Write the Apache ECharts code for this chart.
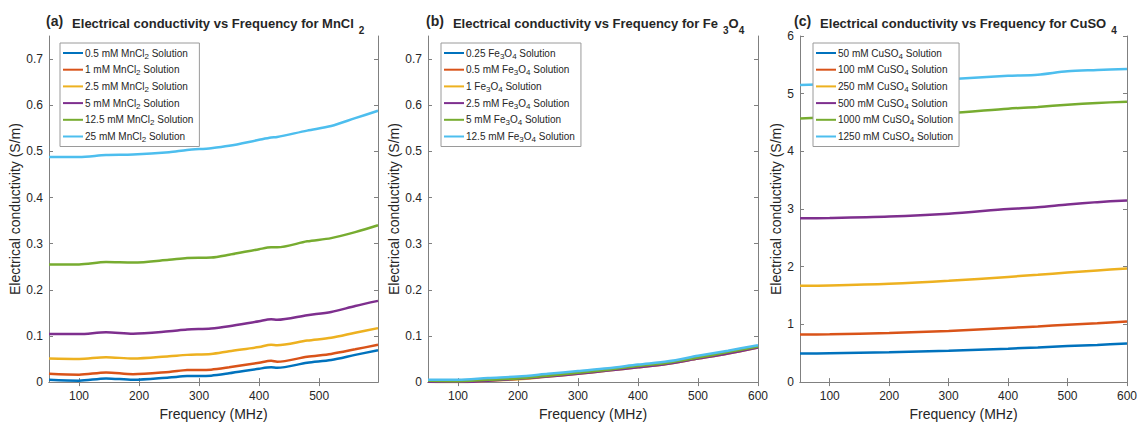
<!DOCTYPE html>
<html>
<head>
<meta charset="utf-8">
<script src="https://cdn.jsdelivr.net/npm/echarts@6/dist/echarts.min.js"></script>
<style>
html,body{margin:0;padding:0;background:#fff;}
#chart{width:1140px;height:426px;}
</style>
</head>
<body>
<div id="chart"></div>
<script>
// ---------- DATA ----------
// Panel (a): MnCl2
const freqA = [50, 100, 145, 190, 250, 280, 320, 350, 400, 420, 430, 480, 520, 560, 598];
const mn05  = [0.005,0.003,0.008,0.005,0.010,0.013,0.014,0.019,0.029,0.032,0.031,0.042,0.048,0.059,0.069];
const mn1   = [0.018,0.016,0.021,0.017,0.022,0.026,0.027,0.032,0.042,0.046,0.044,0.055,0.061,0.071,0.081];
const mn25  = [0.051,0.050,0.054,0.051,0.056,0.059,0.061,0.067,0.076,0.081,0.080,0.090,0.096,0.107,0.117];
const mn5   = [0.104,0.104,0.108,0.105,0.110,0.114,0.116,0.121,0.132,0.136,0.135,0.145,0.152,0.165,0.176];
const mn125 = [0.255,0.255,0.260,0.259,0.265,0.269,0.270,0.276,0.288,0.292,0.292,0.305,0.312,0.325,0.340];
const mn25b = [0.488,0.488,0.492,0.493,0.498,0.503,0.507,0.512,0.525,0.530,0.531,0.545,0.555,0.572,0.588];
const namesA = ['0.5 mM MnCl2 Solution','1 mM MnCl2 Solution','2.5 mM MnCl2 Solution','5 mM MnCl2 Solution','12.5 mM MnCl2 Solution','25 mM MnCl2 Solution'];

// Panel (b): Fe3O4
const freqB = [50,100,150,200,250,300,350,400,450,500,550,600];
const fe025 = [0.003,0.002,0.005,0.008,0.014,0.020,0.027,0.034,0.042,0.053,0.064,0.077];
const fe05  = [0.002,0.001,0.004,0.007,0.013,0.019,0.026,0.033,0.041,0.052,0.063,0.076];
const fe1   = [0.001,0.000,0.003,0.006,0.012,0.018,0.025,0.032,0.040,0.051,0.062,0.075];
const fe25  = [0.001,0.000,0.003,0.007,0.012,0.018,0.025,0.032,0.040,0.051,0.062,0.075];
const fe5   = [0.003,0.002,0.005,0.008,0.014,0.020,0.027,0.035,0.042,0.053,0.065,0.077];
const fe125 = [0.005,0.005,0.009,0.012,0.018,0.024,0.030,0.038,0.045,0.057,0.068,0.080];
const namesB = ['0.25 Fe3O4 Solution','0.5 mM Fe3O4 Solution','1 Fe3O4 Solution','2.5 mM Fe3O4 Solution','5 mM Fe3O4 Solution','12.5 mM Fe3O4 Solution'];

// Panel (c): CuSO4
const freqC = [50,100,200,300,400,450,500,550,600];
const cu50   = [0.494,0.500,0.517,0.545,0.580,0.600,0.625,0.645,0.670];
const cu100  = [0.824,0.830,0.852,0.886,0.940,0.965,0.994,1.020,1.051];
const cu250  = [1.670,1.676,1.705,1.756,1.824,1.860,1.900,1.935,1.970];
const cu500  = [2.840,2.845,2.870,2.920,3.000,3.030,3.080,3.120,3.150];
const cu1000 = [4.570,4.590,4.620,4.660,4.740,4.770,4.810,4.840,4.860];
const cu1250 = [5.150,5.170,5.210,5.250,5.310,5.330,5.390,5.410,5.430];
const namesC = ['50 mM CuSO4 Solution','100 mM CuSO4 Solution','250 mM CuSO4 Solution','500 mM CuSO4 Solution','1000 mM CuSO4 Solution','1250 mM CuSO4 Solution'];

const xTicksA = [100,200,300,400,500];
const xTicksBC = [100,200,300,400,500,600];
const yTicksAB = [0,0.1,0.2,0.3,0.4,0.5,0.6,0.7];
const yTicksC = [0,1,2,3,4,5,6];

const titles = [
  {tag:'(a)', main:'Electrical conductivity vs Frequency for MnCl', sub:['2']},
  {tag:'(b)', main:'Electrical conductivity vs Frequency for Fe', sub:['3','O','4']},
  {tag:'(c)', main:'Electrical conductivity vs Frequency for CuSO', sub:['4']}
];

// ---------- STYLE ----------
const colors = ['#0072BD','#D95319','#EDB120','#7E2F8E','#77AC30','#4DBEEE'];
const FONT = 'Liberation Sans, Arial, sans-serif';
const TXT = '#262626';
const AX = '#808080';

const grids = [
  {left:49, top:36, width:329, height:352},
  {left:428, top:36, width:330, height:352},
  {left:800, top:36, width:328, height:352}
];

function fmtY(v){ return String(Math.round(v*10)/10); }
function subRich(name){
  return '{a|' + name.replace(/([A-Za-z])(\d+)/g, '$1}{s|$2}{a|') + '}';
}

const xAxes = [], yAxes = [], series = [], legends = [], titleComps = [];
const panels = [
  {freq:freqA, data:[mn05,mn1,mn25,mn5,mn125,mn25b], names:namesA, xmax:598, xt:xTicksA, ymax:0.75, yt:yTicksAB, gap:27, lgLeft:60},
  {freq:freqB, data:[fe025,fe05,fe1,fe25,fe5,fe125], names:namesB, xmax:600, xt:xTicksBC, ymax:0.75, yt:yTicksAB, gap:26, lgLeft:441},
  {freq:freqC, data:[cu50,cu100,cu250,cu500,cu1000,cu1250], names:namesC, xmax:600, xt:xTicksBC, ymax:6, yt:yTicksC, gap:14, lgLeft:813}
];

panels.forEach((p, i) => {
  const xb = xAxes.length;
  xAxes.push({
    type:'value', gridIndex:i, min:50, max:p.xmax, position:'bottom',
    name:'Frequency (MHz)', nameLocation:'middle', nameGap:22,
    nameTextStyle:{fontFamily:FONT, fontSize:14, color:TXT},
    splitLine:{show:false},
    axisLine:{show:true, lineStyle:{color:AX, width:1}},
    axisTick:{show:true, inside:true, length:4, customValues:p.xt, lineStyle:{color:AX}},
    axisLabel:{customValues:p.xt, fontFamily:FONT, fontSize:12, color:TXT, margin:8}
  });
  xAxes.push({
    type:'value', gridIndex:i, min:50, max:p.xmax, position:'top',
    splitLine:{show:false},
    axisLine:{show:true, lineStyle:{color:AX, width:1}},
    axisTick:{show:true, inside:true, length:4, customValues:p.xt, lineStyle:{color:AX}},
    axisLabel:{show:false}
  });
  const yb = yAxes.length;
  yAxes.push({
    type:'value', gridIndex:i, min:0, max:p.ymax, position:'left',
    name:'Electrical conductivity (S/m)', nameLocation:'middle', nameGap:p.gap,
    nameTextStyle:{fontFamily:FONT, fontSize:14, color:TXT},
    splitLine:{show:false},
    axisLine:{show:true, lineStyle:{color:AX, width:1}},
    axisTick:{show:true, inside:true, length:4, customValues:p.yt, lineStyle:{color:AX}},
    axisLabel:{customValues:p.yt, formatter:fmtY, fontFamily:FONT, fontSize:12, color:TXT, margin:6}
  });
  yAxes.push({
    type:'value', gridIndex:i, min:0, max:p.ymax, position:'right',
    splitLine:{show:false},
    axisLine:{show:true, lineStyle:{color:AX, width:1}},
    axisTick:{show:true, inside:true, length:4, customValues:p.yt, lineStyle:{color:AX}},
    axisLabel:{show:false}
  });
  p.data.forEach((arr, k) => {
    series.push({
      type:'line', name:p.names[k], xAxisIndex:xb, yAxisIndex:yb,
      data:p.freq.map((f, j) => [f, arr[j]]),
      showSymbol:false, symbol:'none', smooth:0.3,
      lineStyle:{width:2.5, color:colors[k]}, itemStyle:{color:colors[k]},
      animation:false, z:2
    });
  });
  legends.push({
    data:p.names.map(n => ({name:n, icon:'path://M0,0L20,0L20,2L0,2Z'})),
    orient:'vertical', left:p.lgLeft, top:43,
    itemWidth:20, itemHeight:3, itemGap:2.7,
    backgroundColor:'#fff', borderColor:'#9a9a9a', borderWidth:1,
    padding:[3,6,3,3], selectedMode:false, z:10,
    formatter:subRich,
    textStyle:{
      fontFamily:FONT, fontSize:10, color:TXT, padding:[0,0,0,-3],
      rich:{
        a:{fontFamily:FONT, fontSize:10, color:TXT, lineHeight:14, verticalAlign:'middle'},
        s:{fontFamily:FONT, fontSize:8, color:TXT, lineHeight:14, verticalAlign:'bottom', padding:[6,0,0,0]}
      }
    }
  });
  const t = titles[i];
  let txt = '{p|' + t.tag + '}{b|' + t.main + '} ';
  t.sub.forEach(s => { txt += (/\d/.test(s) ? '{s|' + s + '}' : '{o|' + s + '}'); });
  titleComps.push({
    left:[41, 421, 789][i], top:6, text:txt,
    textStyle:{
      rich:{
        p:{fontFamily:FONT, fontSize:14, color:TXT, lineHeight:24, verticalAlign:'middle', padding:[0,0,4,0]},
        b:{fontFamily:FONT, fontSize:13, fontWeight:'bold', color:TXT, lineHeight:24, verticalAlign:'middle', padding:[0,0,0,9]},
        o:{fontFamily:FONT, fontSize:13, fontWeight:'bold', color:TXT, lineHeight:24, verticalAlign:'middle'},
        s:{fontFamily:FONT, fontSize:10, fontWeight:'bold', color:TXT, lineHeight:24, verticalAlign:'bottom', padding:[10,0,0,0]}
      }
    }
  });
});

const chart = echarts.init(document.getElementById('chart'), null, {renderer:'svg'});
chart.setOption({
  animation:false,
  backgroundColor:'#fff',
  color:colors,
  title:titleComps,
  grid:grids.map(g => Object.assign({show:false, containLabel:false}, g)),
  xAxis:xAxes,
  yAxis:yAxes,
  legend:legends,
  series:series
});
</script>
</body>
</html>
